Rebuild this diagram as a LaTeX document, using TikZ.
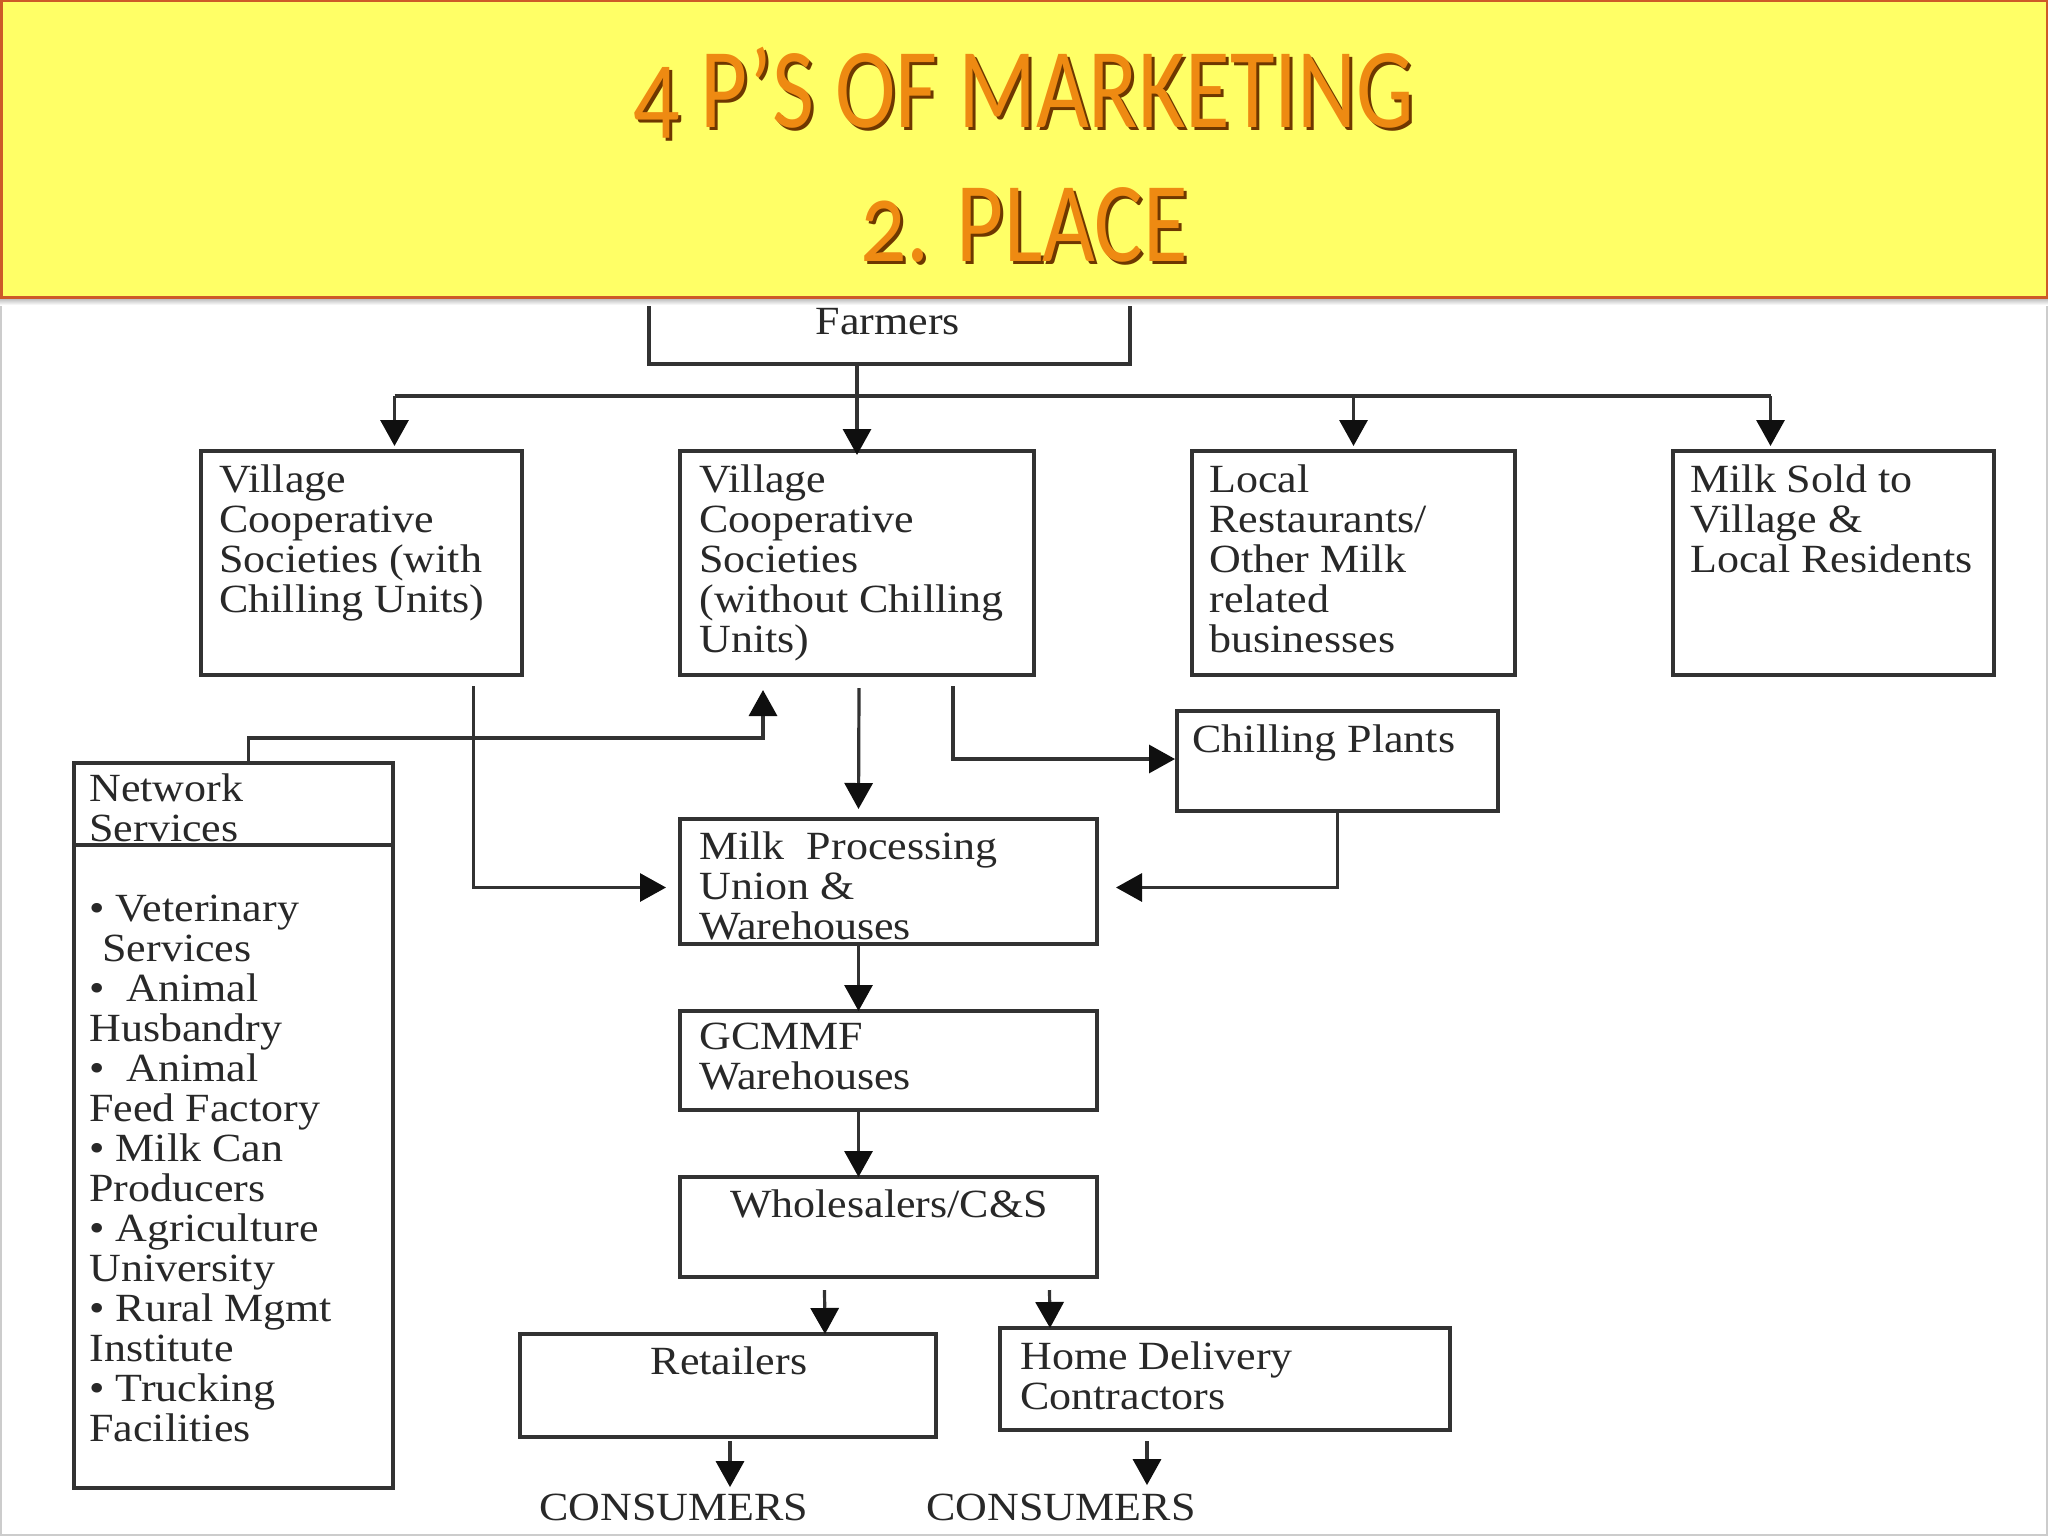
\documentclass[tikz,border=0pt]{standalone}
\usepackage{fontspec}
\setmainfont{Liberation Serif}[FakeStretch=1.1]
\newfontfamily\titlefont{Carlito}[FakeStretch=0.8,Numbers=OldStyle]
\usetikzlibrary{arrows.meta,calc}
\definecolor{hdrfill}{RGB}{255,255,102}
\definecolor{hdrline}{RGB}{205,90,40}
\definecolor{ttlor}{RGB}{238,138,18}
\definecolor{ttlsh}{RGB}{110,55,0}
\definecolor{linec}{RGB}{50,50,50}
\definecolor{tipc}{RGB}{15,15,15}
\definecolor{txtc}{RGB}{40,40,40}
\tikzset{
 box/.style={draw=linec,line width=1.6pt,fill=white,inner sep=0pt,outer sep=0pt,anchor=north west},
 txt/.style={anchor=north west,inner sep=0pt,align=left,text=txtc,font=\fontsize{20}{20}\selectfont},
 ctxt/.style={anchor=base,inner sep=0pt,text=txtc,font=\fontsize{20}{20}\selectfont},
 ln/.style={draw=linec,line width=1.6pt},
 arr/.style={ln,-{Triangle[width=14pt,length=13pt,color=tipc]}},
 ttl/.style={anchor=base,inner sep=0pt,font=\titlefont\fontsize{57}{57}\selectfont},
}
\newcommand\bx[5]{\node[box,minimum width=#4*0.5pt,minimum height=#5*0.5pt] (#1) at (#2,#3) {};}
\begin{document}
\begin{tikzpicture}[x=0.5pt,y=-0.5pt]
\useasboundingbox (0,0) rectangle (2048,1536);
\fill[white] (0,0) rectangle (2048,1536);
\draw[gray!40,line width=1pt] (1,300) rectangle (2047,1535);
% boxes
\bx{farm}{649}{270}{481}{94}
\bx{vcs1}{201}{451}{321}{224}
\bx{vcs2}{680}{451}{354}{224}
\bx{loc}{1192}{451}{323}{224}
\bx{milk}{1673}{451}{321}{224}
\bx{ns}{74}{763}{319}{725}
\bx{chill}{1177}{711}{321}{100}
\bx{mp}{680}{819}{417}{125}
\bx{gc}{680}{1011}{417}{99}
\bx{ws}{680}{1177}{417}{100}
\bx{ret}{520}{1334}{416}{103}
\bx{home}{1000}{1328}{450}{102}
\draw[ln] ($(ns.north west)+(0,82)$) -- ($(ns.north east)+(0,82)$);
% texts
\node[txt] (tvcs1) at (219,464) {\strut Village\\Cooperative\\Societies (with\\Chilling Units)};
\node[txt] (tvcs2) at (699,464) {\strut Village\\Cooperative\\Societies\\(without Chilling\\Units)};
\node[txt] (tloc) at (1209,464) {\strut Local\\Restaurants/\\Other Milk\\related\\businesses};
\node[txt] (tmilk) at (1690,464) {\strut Milk Sold to\\Village \&\\Local Residents};
\node[txt] (tns) at (89,773) {\strut Network\\Services};
\node[txt] (tnsl) at (89,893) {\strut\textbullet~Veterinary\\\hspace{6.5pt}Services\\\textbullet~~Animal\\Husbandry\\\textbullet~~Animal\\Feed Factory\\\textbullet~Milk Can\\Producers\\\textbullet~Agriculture\\University\\\textbullet~Rural Mgmt\\Institute\\\textbullet~Trucking\\Facilities};
\node[txt] (tchill) at (1192,724) {\strut Chilling Plants};
\node[txt] (tmp) at (699,831) {\strut Milk\ \ Processing\\Union \&\\Warehouses};
\node[txt] (tgc) at (699,1021) {\strut GCMMF\\Warehouses};
\node[ctxt] (tws) at (889,1217) {Wholesalers/C\&S};
\node[ctxt] (tret) at (729,1374) {Retailers};
\node[txt] (thome) at (1020,1341) {\strut Home Delivery\\Contractors};
\node[ctxt] (cons1) at (674,1520) {CONSUMERS};
\node[ctxt] (cons2) at (1061,1520) {CONSUMERS};
% connectors
\draw[arr] (farm.south -| vcs2.north) -- ($(vcs2.north)+(0,4)$);
\draw[ln] ($(vcs1.north)+(33,-55)$) -- ($(milk.north)+(-63,-55)$);
\draw[arr] ($(vcs1.north)+(33,-55)$) -- ($(vcs1.north)+(33,-5)$);
\draw[arr] ($(loc.north)+(0,-55)$) -- ($(loc.north)+(0,-5)$);
\draw[arr] ($(milk.north)+(-63,-55)$) -- ($(milk.north)+(-63,-5)$);
\draw[arr] ($(ns.north)+(15,0)$) |- ($(vcs2.south)+(-94,63)$) -- ($(vcs2.south)+(-94,15)$);
\draw[arr] ($(vcs1.south)+(112,11)$) |- ($(mp.west)+(-14,6)$);
\draw[arr] ($(vcs2.south)+(2,13)$) -- ($(mp.north)+(-30,-10)$);
\draw[arr] ($(vcs2.south)+(96,11)$) |- ($(chill.west)+(-2,-2)$);
\draw[arr] (chill.south) |- ($(mp.east)+(19,6)$);
\draw[arr] ($(mp.south)+(-30,0)$) -- ($(gc.north)+(-30,0)$);
\draw[arr] ($(gc.south)+(-30,0)$) -- ($(ws.north)+(-30,0)$);
\draw[arr] ($(ws.south)+(-64,13)$) -- ($(ret.north)+(97,0)$);
\draw[arr] ($(ws.south)+(161,13)$) -- ($(home.north)+(-175,0)$);
\draw[arr] ($(ret.south)+(2,4)$) -- ($(cons1.north)+(56,-6)$);
\draw[arr] ($(home.south)+(-78,11)$) -- ($(cons2.north)+(86,-8)$);
% header
\shade[top color=gray!65,bottom color=white] (0,297) rectangle (2048,305);
\fill[hdrfill] (0,0) rectangle (2048,297);
\draw[hdrline,line width=1.5pt] (1,1) rectangle (2047,297);
\node[ttl,text=ttlsh] (t1s) at (1027,130) {4 P’S OF MARKETING};
\node[ttl,text=ttlor] (t1) at (1024,127) {4 P’S OF MARKETING};
\node[ttl,text=ttlsh] (t2s) at (1027,264) {2. PLACE};
\node[ttl,text=ttlor] (t2) at (1024,261) {2. PLACE};
\node[ctxt] (tfarm) at (888,334) {Farmers};
\end{tikzpicture}
\end{document}
